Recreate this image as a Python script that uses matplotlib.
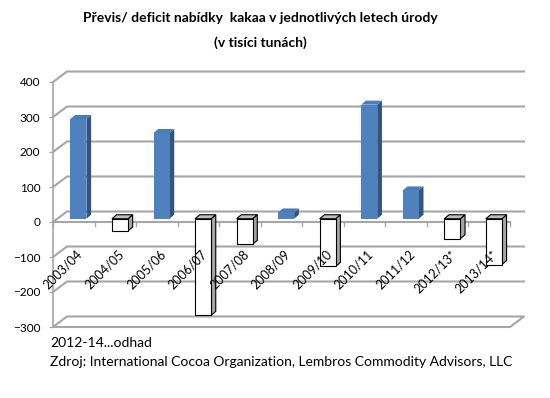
import matplotlib.pyplot as plt
from matplotlib.patches import Polygon

# crop years and supply surplus / deficit (thousand tonnes)
seasons = ['2003/04', '2004/05', '2005/06', '2006/07', '2007/08', '2008/09',
           '2009/10', '2010/11', '2011/12', '2012/13*', '2013/14*']
surplus = [285, -35, 245, -276, -73, 18, -136, 326, 81, -57, -131]
yticks = [-300, -200, -100, 0, 100, 200, 300, 400]

plt.rcParams['font.family'] = ['Lato', 'DejaVu Sans']

fig = plt.figure(figsize=(5.5, 3.98), dpi=100)
ax = fig.add_axes([53 / 550, 1 - 327 / 398, 457 / 550, 245 / 398])
n = len(seasons)
ax.set_xlim(0, n)
ax.set_ylim(-300, 400)

# fake 3d depth, in data units
px_x = 457 / n
px_y = 245 / 700
DX, DY = 14 / px_x, 10.5 / px_y       # wall depth
BX, BY = 4.7 / px_x, 4 / px_y         # bar depth
w = 16 / px_x
grid = '#a6a6a6'

for s in ['top', 'right', 'bottom']:
    ax.spines[s].set_visible(False)
ax.spines['left'].set_color(grid)
ax.spines['left'].set_linewidth(1.2)
ax.set_xticks([])
ax.set_yticks(yticks)
ax.tick_params(axis='y', length=3, color=grid, labelsize=8.5, pad=6)

# back wall gridlines + side wall diagonals
for y in yticks:
    if y == -300:
        ax.plot([0, n, n + DX, DX, 0], [y, y, y + DY, y + DY, y],
                color=grid, lw=1.5, clip_on=False, zorder=1)
    else:
        ax.plot([0, DX, n + DX], [y, y + DY, y + DY], color=grid, lw=1.5,
                clip_on=False, zorder=1)

# category axis at zero
ax.plot([0, n], [0, 0], color=grid, lw=1.5, clip_on=False, zorder=1)
for i in range(n + 1):
    ax.plot([i, i], [0, -11], color=grid, lw=1, clip_on=False, zorder=1)

for i, lab in enumerate(seasons):
    ax.annotate(lab, (i + 0.56, 0), xytext=(0, -18.5), textcoords='offset points',
                rotation=45, rotation_mode='anchor', ha='right', va='top',
                fontsize=9, zorder=5)

b = DY / 2 - BY / 2
for i, v in enumerate(surplus):
    x0 = i + 0.5 - w / 2 + DX / 2 - BX / 2
    top = b + max(v, 0)
    bot = b + min(v, 0)
    if v >= 0:
        fc, sc, tc, ec, lw = '#4f81bd', '#2f5584', '#4a7ebb', 'none', 0
    else:
        fc, sc, tc, ec, lw = 'white', '#a6a6a6', '#bfbfbf', 'black', 0.8
    side = Polygon([(x0 + w, bot), (x0 + w + BX, bot + BY),
                    (x0 + w + BX, top + BY), (x0 + w, top)],
                   closed=True, fc=sc, ec=ec, lw=lw, zorder=3, clip_on=False)
    cap = Polygon([(x0, top), (x0 + BX, top + BY), (x0 + w + BX, top + BY),
                   (x0 + w, top)],
                  closed=True, fc=tc, ec=ec, lw=lw, zorder=3, clip_on=False)
    ax.add_patch(side)
    ax.add_patch(cap)
    ax.bar(x0, v, width=w, bottom=b, align='edge', color=fc, edgecolor=ec,
           linewidth=lw, zorder=4, clip_on=False)

fig.text(0.473, 0.955, 'Převis/ deficit nabídky  kakaa v jednotlivých letech úrody',
         ha='center', va='center', fontsize=10, weight='bold')
fig.text(0.473, 0.893, '(v tisíci tunách)', ha='center', va='center',
         fontsize=10, weight='bold')
fig.text(0.091, 0.138, '2012-14...odhad', ha='left', va='center', fontsize=10)
fig.text(0.091, 0.09, 'Zdroj: International Cocoa Organization, Lembros Commodity Advisors, LLC',
         ha='left', va='center', fontsize=10)

fig.savefig('out.png', dpi=100)
